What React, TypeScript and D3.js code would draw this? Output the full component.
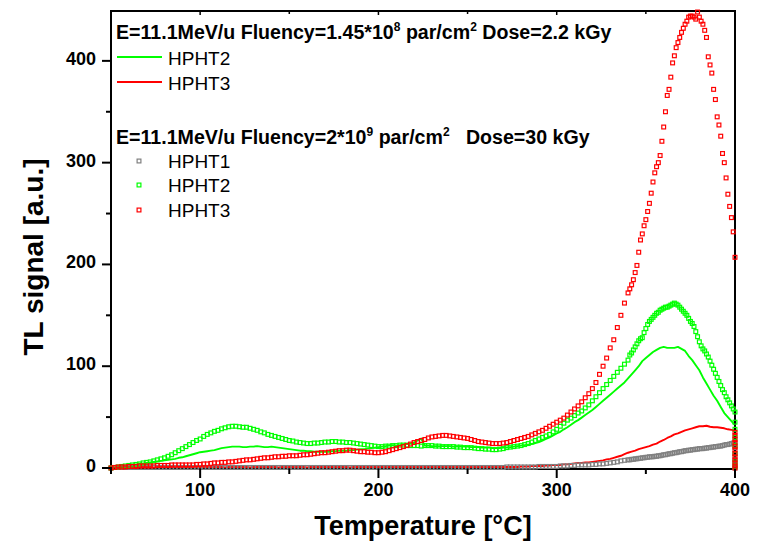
import React from "react";
import * as d3 from "d3";

// ---------- DATA ----------
// Temperature grid for the 2.2 kGy lines (°C)
const lineTemps: number[] = d3.range(50, 401, 2);
// Temperature grid for the 30 kGy scatter series (°C)
const scatterTemps: number[] = [...d3.range(50, 339, 2), ...d3.range(340, 401, 1)];

// 2.2 kGy, HPHT2 (green line)
const hpht2Line22: number[] = [
  0, 0.5, 1, 1.5, 2, 2.5, 3, 3.5, 4, 4.5, 5, 5.5, 6, 6.5, 7, 7.5, 8, 8.5, 9, 10,
  10.5, 11.5, 12.5, 13.5, 14.5, 15.5, 16, 16.5, 17, 17.5, 18.5, 19.5, 20, 20.5, 21, 21, 21, 20.5, 20.5, 21,
  21, 21.5, 21, 20.5, 20.5, 21, 20.5, 20, 19.5, 19, 18.5, 18, 17.5, 17, 17, 16.5, 16.5, 16, 16, 16,
  16, 16, 16.5, 16.5, 17, 17, 17, 17.5, 17.5, 18, 18.5, 18.5, 19, 19.5, 20, 20.5, 21, 21.5, 22, 22.5,
  22, 22.5, 23, 23.5, 24, 25, 27, 29, 22, 22, 21.5, 21.5, 21.5, 21.5, 21.5, 21.5, 21, 21, 21, 21,
  21, 20.5, 20.5, 20.5, 20, 20, 20, 19.5, 19.5, 19.5, 20, 20, 20.5, 21, 21.5, 22, 22.5, 23, 23.5, 24.5,
  25.5, 27, 28.5, 30, 32, 34, 35.5, 38, 40, 42.5, 45, 47, 49.5, 52, 54.5, 57, 60, 63, 66, 69,
  72, 75, 78, 81, 84, 88, 92, 96, 100, 105, 108, 111, 114, 116, 118, 119, 118, 118, 118, 119,
  117, 115, 110, 106, 101, 96, 89, 83, 77, 71, 66, 60, 54, 50, 46, 42,
];
// 2.2 kGy, HPHT3 (red line)
const hpht3Line22: number[] = [
  0, 0.5, 0.5, 0.5, 1, 1, 1, 0.5, 1, 1, 1, 1, 0.5, 1, 1, 1, 1, 1, 0.5, 1,
  1, 1, 1, 1, 1, 0.5, 1, 1, 1, 1, 1, 1, 0.5, 1, 1, 1, 1, 1, 1, 0.5,
  1, 1, 1, 1, 1, 1, 1, 0.5, 1, 1, 1, 1, 1, 1, 1, 0.5, 1, 1, 1, 1,
  1, 1, 1, 1, 1, 1, 1, 0.5, 1, 1, 1, 1, 1, 1, 1, 1, 1, 1, 1, 1,
  1, 1, 1, 1, 1, 1, 1, 1, 1, 1, 1, 1, 1, 1, 1, 1, 1, 1, 1, 1,
  1, 1, 1, 1, 1, 1, 1, 1, 1, 1, 1, 1, 1, 1, 1, 1.5, 1.5, 1.5, 2, 2,
  2, 2, 2.5, 2.5, 3, 3, 3, 3.5, 3.5, 4, 4.5, 5, 5, 5.5, 5.5, 6, 6.5, 7, 7.5, 8.5,
  9, 10, 11, 12, 13.5, 15, 16, 17, 18.5, 19.5, 20.5, 21.5, 23, 24, 26, 27.5, 29.5, 31, 33, 34,
  35.5, 37, 38, 39, 40, 41, 41, 41.5, 40.5, 40, 40, 39.5, 39, 38, 37.5, 37,
];

// 30 kGy, HPHT1 (grey squares)
const hpht1Dots30: number[] = [
  0, 0.5, 0.5, 0.5, 0.5, 0.5, 0.5, 0.5, 0.5, 0.5, 0.5, 0.5, 0.5, 0.5, 0.5, 0.5, 0.5, 0.5, 0.5, 0.5,
  0.5, 0.5, 0.5, 0.5, 0.5, 0.5, 0.5, 0.5, 0.5, 0.5, 0.5, 0.5, 0.5, 0.5, 0.5, 0.5, 0.5, 0.5, 0.5, 0.5,
  0.5, 0.5, 0.5, 0.5, 0.5, 0.5, 0.5, 0.5, 0.5, 0.5, 0.5, 0.5, 0.5, 0.5, 0.5, 0.5, 0.5, 0.5, 0.5, 0.5,
  0.5, 0.5, 0.5, 0.5, 0.5, 0.5, 0.5, 0.5, 0.5, 0.5, 0.5, 0.5, 0.5, 0.5, 0.5, 0.5, 0.5, 0.5, 0.5, 0.5,
  0.5, 0.5, 0.5, 0.5, 0.5, 0.5, 0.5, 0.5, 0.5, 0.5, 0.5, 0.5, 0.5, 0.5, 0.5, 0.5, 0.5, 0.5, 0.5, 0.5,
  0.5, 0.5, 0.5, 0.5, 0.5, 0.5, 0.5, 0.5, 0.5, 0.5, 0.5, 1, 1, 1, 1, 1, 1, 1, 1, 1,
  1.5, 1.5, 1.5, 1.5, 1.5, 1.5, 2, 2, 2, 2.5, 2.5, 3, 3, 3, 3, 3.5, 3.5, 4, 4, 4.5,
  5, 5.5, 6, 7, 7.5,
  8, 8, 8.5, 8.5, 9, 9, 9.5, 9.5, 10, 10, 10.5, 10.5, 11, 11, 11, 11.5, 11.5, 12, 12, 12.5,
  13, 13, 13.5, 14, 14, 14.5, 15, 15, 15.5, 16, 16, 16.5, 17, 17, 17.5, 17.5, 18, 18, 18.5, 18.5,
  19, 19, 19, 19.5, 19.5, 20, 20, 20.5, 20.5, 21, 21, 21.5, 21.5, 22, 22.5, 23, 23, 23.5, 24, 24.5,
  25,
];
// 30 kGy, HPHT2 (green squares)
const hpht2Dots30: number[] = [
  0, 0.5, 1, 1.5, 2, 2.5, 3, 3.5, 4, 5, 5.5, 6, 7, 8, 9, 10, 11.5, 13, 15, 17,
  19, 21, 23, 25, 27, 28.5, 31, 33, 34.5, 36, 37, 38.5, 39.5, 40.5, 41, 41, 40.5, 40, 40, 39,
  38, 37, 35.5, 34.5, 33, 32, 31, 30, 29, 28, 27, 26.5, 25.5, 25, 24.5, 24, 24, 24.5, 24.5, 25,
  25.5, 25.5, 26, 26, 25.5, 25.5, 25, 25, 24.5, 24, 23.5, 23, 22.5, 22, 21.5, 21, 21, 21.5, 21.5, 22,
  22, 22.5, 22.5, 22.5, 22, 22, 22, 21.5, 22, 22, 22, 21.5, 21.5, 21, 21, 21, 21, 20.5, 20.5, 20,
  20, 20, 19.5, 19, 19, 18.5, 18.5, 18, 18, 18.5, 19, 20, 20.5, 21, 21.5, 22, 23, 24, 25.5, 27,
  28.5, 30, 31.5, 33, 35.5, 38, 41, 44, 47, 49, 51.5, 54, 56, 59, 62, 66, 70, 74, 78, 82,
  86, 90, 94, 98, 102, 106,
  111, 113, 116, 119, 122, 125, 127, 128, 133, 137, 141, 144, 146, 148, 150, 152, 153, 155, 156, 157,
  158, 158, 159, 160, 161, 162, 161, 160, 158, 156, 154, 152, 150, 147, 144, 142, 139, 134, 129, 124,
  120, 117, 115, 112, 109, 105, 101, 97, 93, 89, 85, 81, 77, 74, 70, 67, 64, 61, 58, 55,
  52,
];
// 30 kGy, HPHT3 (red squares)
const hpht3Dots30: number[] = [
  0, 0.5, 1, 1, 1, 1.5, 1.5, 1.5, 2, 2, 2, 2, 2, 2.5, 2.5, 2.5, 2.5, 3, 3, 3,
  3, 3, 3, 3, 3.5, 3.5, 4, 4, 4.5, 5, 5, 5.5, 5.5, 6, 6, 6.5, 7, 7.5, 8, 8,
  8.5, 9, 9.5, 10, 10, 10.5, 11, 11, 11.5, 11.5, 12, 12, 12, 12.5, 13, 13, 13.5, 14, 14.5, 15,
  15, 15.5, 16, 16.5, 17, 17, 17.5, 17.5, 17, 16.5, 16, 16, 15.5, 15.5, 15, 15, 15.5, 16, 17, 18,
  19, 20, 21, 22, 23.5, 25, 26, 27, 28, 29.5, 30.5, 31, 31.5, 32, 32, 31.5, 31, 30.5, 30, 29.5,
  29, 28, 27, 26, 25.5, 25, 24.5, 24, 24, 24, 24.5, 25, 26, 27, 28, 29, 30, 31, 32.5, 34,
  35.5, 37, 39, 41, 43, 45, 47, 49, 52, 55, 58, 61, 65, 69, 73, 78, 84, 92, 100, 108,
  118, 126, 138, 150, 162,
  172, 176, 180, 185, 192, 199, 212, 224, 230, 238, 244, 252, 260, 270, 281, 290, 296, 300, 307, 321,
  335, 350, 366, 372, 384, 398, 405, 413, 418, 423, 428, 432, 436, 439, 443, 444, 444, 443, 441, 448,
  443, 439, 436, 430, 423, 404, 396, 388, 372, 362, 345, 337, 326, 309, 300, 285, 269, 257, 246, 232,
  207,
];

// extra readings recorded at the final temperature (400 °C)
const hpht1Tail30: number[] = [20, 14, 8, 3, 0];
const hpht2Tail30: number[] = [45, 38, 30, 22, 14, 6, 1];
const hpht3Tail30: number[] = [35, 32, 28, 25, 21, 18, 14, 11, 8, 5, 2, 0];
const hpht2TailLine22: number[] = [0];
const hpht3TailLine22: number[] = [0];
const tailTemp = 400;

const xTicks: number[] = [100, 200, 300, 400];
const xMinorTicks: number[] = [50, 150, 250, 350];
const yTicks: number[] = [0, 100, 200, 300, 400];
const yMinorTicks: number[] = [50, 150, 250, 350];

const GREEN = "#00ff00";
const RED = "#ff0000";
const GREY = "#808080";
const FONT = "'Liberation Sans', Arial, Helvetica, sans-serif";

export default function App() {
  const W = 765;
  const H = 549;
  const left = 111, right = 735, top = 11, bottom = 469;
  const x = d3.scaleLinear().domain([50, 400]).range([left, right]);
  const y = d3.scaleLinear().domain([-1, 449]).range([bottom, top]);

  const toPts = (ts: number[], vs: number[], tail: number[]) => [
    ...ts.map((t, i) => [t, vs[i]] as [number, number]),
    ...tail.map((v) => [tailTemp, v] as [number, number]),
  ];

  const line = d3
    .line<[number, number]>()
    .x((d) => x(d[0]))
    .y((d) => y(d[1]));

  const lines = [
    { color: GREEN, pts: toPts(lineTemps, hpht2Line22, hpht2TailLine22) },
    { color: RED, pts: toPts(lineTemps, hpht3Line22, hpht3TailLine22) },
  ];
  const scatters = [
    { color: GREY, pts: toPts(scatterTemps, hpht1Dots30, hpht1Tail30) },
    { color: GREEN, pts: toPts(scatterTemps, hpht2Dots30, hpht2Tail30) },
    { color: RED, pts: toPts(scatterTemps, hpht3Dots30, hpht3Tail30) },
  ];
  const S = 3.8;

  return (
    <svg
      width={W}
      height={H}
      style={{ position: "absolute", left: 0, top: 0, background: "#fff" }}
      fontFamily={FONT}
    >
      <rect x={0} y={0} width={W} height={H} fill="#fff" />
      {/* data lines */}
      {lines.map((l, i) => (
        <path key={"l" + i} d={line(l.pts) || ""} fill="none" stroke={l.color} strokeWidth={1.9} strokeLinejoin="round" />
      ))}
      {/* frame */}
      <rect x={left} y={top} width={right - left} height={bottom - top} fill="none" stroke="#000" strokeWidth={2} />
      {/* scatter */}
      {scatters.map((s, i) => (
        <g key={"s" + i} fill="none" stroke={s.color} strokeWidth={1.2}>
          {s.pts.map((p, j) => (
            <rect key={j} x={x(p[0]) - S / 2} y={y(p[1]) - S / 2} width={S} height={S} />
          ))}
        </g>
      ))}

      {/* x axis ticks */}
      {xTicks.map((t) => (
        <g key={"xt" + t}>
          <line x1={x(t)} x2={x(t)} y1={bottom} y2={bottom + 9} stroke="#000" strokeWidth={2} />
          <line x1={x(t)} x2={x(t)} y1={top} y2={top + 4} stroke="#000" strokeWidth={1.5} />
          <text x={x(t)} y={496} textAnchor="middle" fontSize={18} fontWeight="bold">
            {t}
          </text>
        </g>
      ))}
      {xMinorTicks.map((t) => (
        <g key={"xm" + t}>
          <line x1={x(t)} x2={x(t)} y1={bottom} y2={bottom + 5} stroke="#000" strokeWidth={2} />
          <line x1={x(t)} x2={x(t)} y1={top} y2={top + 3} stroke="#000" strokeWidth={1.5} />
        </g>
      ))}
      {/* y axis ticks */}
      {yTicks.map((t) => (
        <g key={"yt" + t}>
          <line x1={left - 9} x2={left} y1={y(t)} y2={y(t)} stroke="#000" strokeWidth={2} />
          <text x={96} y={y(t) + 4} textAnchor="end" fontSize={18} fontWeight="bold">
            {t}
          </text>
        </g>
      ))}
      {yMinorTicks.map((t) => (
        <line key={"ym" + t} x1={left - 5} x2={left} y1={y(t)} y2={y(t)} stroke="#000" strokeWidth={2} />
      ))}

      {/* axis titles */}
      <text x={423} y={535} textAnchor="middle" fontSize={27} fontWeight="bold">
        Temperature [°C]
      </text>
      <text transform="translate(43,257) rotate(-90)" textAnchor="middle" fontSize={28} fontWeight="bold">
        TL signal [a.u.]
      </text>

      {/* legend 1 */}
      <text x={116} y={39} fontSize={19.6} fontWeight="bold" style={{ whiteSpace: "pre" }}>
        E=11.1MeV/u Fluency=1.45*10
        <tspan dy={-8} fontSize={12}>8</tspan>
        <tspan dy={8}> par/cm</tspan>
        <tspan dy={-8} fontSize={12}>2</tspan>
        <tspan dy={8}> Dose=2.2 kGy</tspan>
      </text>
      <line x1={117} x2={162} y1={57} y2={57} stroke={GREEN} strokeWidth={2} />
      <text x={168} y={65} fontSize={19}>HPHT2</text>
      <line x1={117} x2={162} y1={82} y2={82} stroke={RED} strokeWidth={2} />
      <text x={168} y={90} fontSize={19}>HPHT3</text>

      {/* legend 2 */}
      <text x={116} y={144} fontSize={19.6} fontWeight="bold" style={{ whiteSpace: "pre" }}>
        E=11.1MeV/u Fluency=2*10
        <tspan dy={-8} fontSize={12}>9</tspan>
        <tspan dy={8}> par/cm</tspan>
        <tspan dy={-8} fontSize={12}>2</tspan>
        <tspan dy={8}>   Dose=30 kGy</tspan>
      </text>
      {[
        { c: GREY, label: "HPHT1", yy: 161 },
        { c: GREEN, label: "HPHT2", yy: 185 },
        { c: RED, label: "HPHT3", yy: 210 },
      ].map((e) => (
        <g key={e.label}>
          <rect x={139 - S / 2} y={e.yy - S / 2} width={S} height={S} fill="none" stroke={e.c} strokeWidth={1.2} />
          <text x={168} y={e.yy + 7} fontSize={19}>{e.label}</text>
        </g>
      ))}
    </svg>
  );
}
